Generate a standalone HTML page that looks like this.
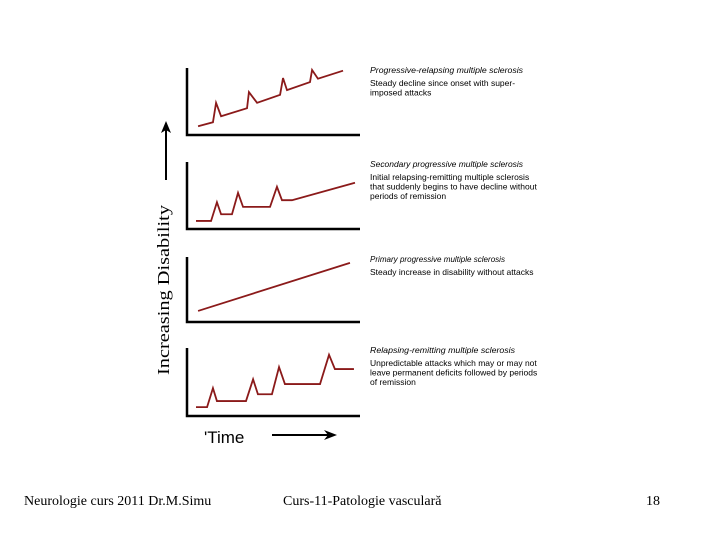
<!DOCTYPE html>
<html><head><meta charset="utf-8"><style>
body{margin:0;background:#fff;}
.wrap{position:relative;width:720px;height:540px;overflow:hidden;font-family:"Liberation Serif",serif;}
.foot{position:absolute;top:494px;font-size:14px;color:#000;}
</style></head><body>
<div class="wrap">
<svg id="chart" width="720" height="540" style="position:absolute;left:0;top:0">
<g id="axes"></g><g id="lines"></g><g id="labels"></g>
<text x="169" y="290" transform="rotate(-90 169 290)" text-anchor="middle" font-family="Liberation Serif" font-size="17" textLength="170" lengthAdjust="spacingAndGlyphs">Increasing Disability</text>
<line x1="166" y1="180" x2="166" y2="128" stroke="#000" stroke-width="2"/>
<polygon points="166,121 161,133 166,130 171,133" fill="#000"/>
<text x="204" y="443" font-family="Liberation Sans" font-size="17">'Time</text>
<line x1="272" y1="435" x2="328" y2="435" stroke="#000" stroke-width="2"/>
<polygon points="337,435 324,430 328,435 324,440" fill="#000"/>
</svg>
<div class="foot" style="left:24px">Neurologie curs 2011 Dr.M.Simu</div>
<div class="foot" style="left:283px">Curs-11-Patologie vasculară</div>
<div class="foot" style="left:646px">18</div>
</div>
<script>
// each panel: time (x, 0-100) and disability (y, 0-100) values
const prTime=[6.4,15,16.8,19.7,34.7,35.8,40.5,53.8,55.5,57.8,71.1,72.3,75.7,90.2];
const prVal=[13,19,48,28,40,64,48,60,85,67,79,97,84,96];
const spTime=[5.2,13.9,17.3,19.7,26,29.5,32.4,48,52,54.9,60.7,97.1];
const spVal=[12,12,40,22,22,54,33,33,63,43,43,69];
const ppTime=[6.4,94.2];
const ppVal=[17,91];
const rrTime=[5.2,11.6,15,17.3,34.1,38.2,41,49.1,53.2,56.6,76.9,82.1,85.5,96.5];
const rrVal=[13,13,41,22,22,54,32,32,72,47,47,90,69,69];
const titles=["Progressive-relapsing multiple sclerosis","Secondary progressive multiple sclerosis","Primary progressive multiple sclerosis","Relapsing-remitting multiple sclerosis"];
const titleLen=[153,153,135,145];
const descs=[["Steady decline since onset with super-","imposed attacks"],["Initial relapsing-remitting multiple sclerosis","that suddenly begins to have decline without","periods of remission"],["Steady increase in disability without attacks"],["Unpredictable attacks which may or may not","leave permanent deficits followed by periods","of remission"]];
const series=[[prTime,prVal],[spTime,spVal],[ppTime,ppVal],[rrTime,rrVal]];
const NS="http://www.w3.org/2000/svg";
const panelTop=[68,162,257,348], panelBase=[135,229,322,416];
const X0=187,X1=360;
function xs(t){return X0+(t/100)*(X1-X0);}
function ys(v,i){const top=panelTop[i],base=panelBase[i];return base-(v/100)*(base-top);}
const axes=document.getElementById('axes'),lines=document.getElementById('lines'),labels=document.getElementById('labels');
series.forEach((s,i)=>{
  const a=document.createElementNS(NS,'path');
  a.setAttribute('d',`M187,${panelTop[i]}V${panelBase[i]}H360`);
  a.setAttribute('stroke','#000');a.setAttribute('stroke-width','2.5');a.setAttribute('fill','none');
  
  
  axes.appendChild(a);
  const p=document.createElementNS(NS,'polyline');
  p.setAttribute('points',s[0].map((t,k)=>xs(t)+','+ys(s[1][k],i)).join(' '));
  p.setAttribute('stroke','#8b1a1a');p.setAttribute('stroke-width','1.8');p.setAttribute('fill','none');
  
  
  lines.appendChild(p);
  const ty=panelTop[i]+5;
  const t=document.createElementNS(NS,'text');
  t.setAttribute('x',370);t.setAttribute('y',ty);t.setAttribute('font-size','8');
  t.setAttribute('font-style','italic');t.setAttribute('font-family','Liberation Sans');
  t.setAttribute('textLength',titleLen[i]);t.setAttribute('lengthAdjust','spacingAndGlyphs');
  t.textContent=titles[i];
  
  
  labels.appendChild(t);
  descs[i].forEach((d,k)=>{
    const e=document.createElementNS(NS,'text');
    e.setAttribute('x',370);e.setAttribute('y',ty+13+k*9.5);e.setAttribute('font-size','8.5');
    e.setAttribute('font-family','Liberation Sans');e.textContent=d;
    
    
    labels.appendChild(e);
  });
});
</script>
</body></html>
